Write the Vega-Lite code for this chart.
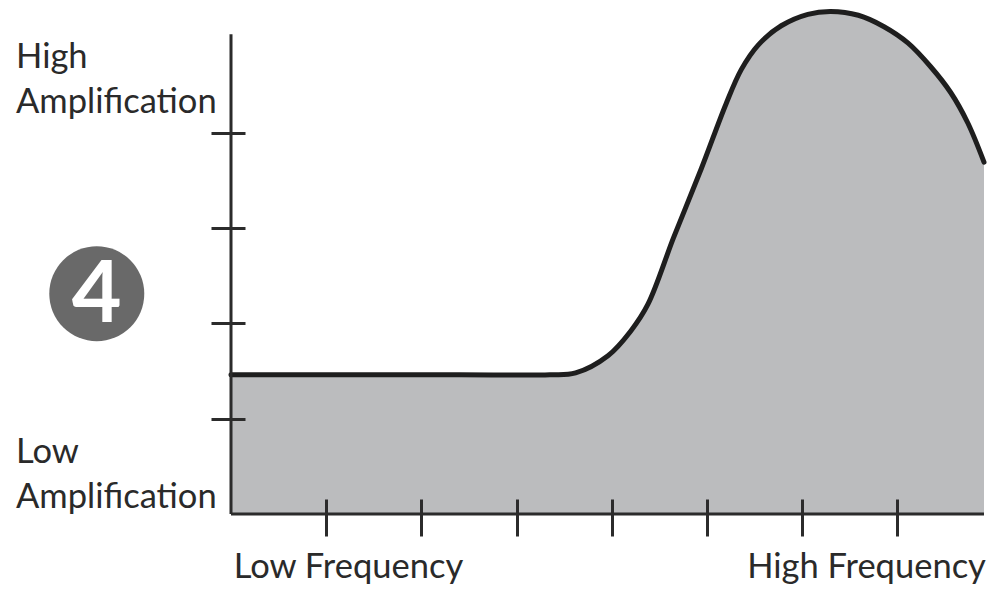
{
  "$schema": "https://vega.github.io/schema/vega-lite/v6.json",
  "autosize": "none",
  "padding": {"left": 231, "top": 0, "right": 4, "bottom": 79},
  "width": 753,
  "height": 514,
  "background": "white",
  "config": {"view": {"stroke": null}},
  "datasets": {
    "curve": [
      {"x": 0, "y": 1.46},
      {"x": 1.2, "y": 1.46},
      {"x": 2.4, "y": 1.46},
      {"x": 3.35, "y": 1.46},
      {"x": 3.62, "y": 1.48},
      {"x": 3.96, "y": 1.66},
      {"x": 4.2, "y": 1.92},
      {"x": 4.38, "y": 2.2},
      {"x": 4.65, "y": 2.9},
      {"x": 4.94, "y": 3.62},
      {"x": 5.2, "y": 4.3},
      {"x": 5.36, "y": 4.66},
      {"x": 5.54, "y": 4.92},
      {"x": 5.78, "y": 5.12},
      {"x": 6.06, "y": 5.24},
      {"x": 6.3, "y": 5.27},
      {"x": 6.59, "y": 5.23},
      {"x": 6.86, "y": 5.11},
      {"x": 7.11, "y": 4.94},
      {"x": 7.35, "y": 4.69},
      {"x": 7.56, "y": 4.42},
      {"x": 7.74, "y": 4.1},
      {"x": 7.91, "y": 3.69}
    ]
  },
  "layer": [
    {
      "data": {"name": "curve"},
      "mark": {"type": "area", "interpolate": "catmull-rom", "color": "#bbbcbe"},
      "encoding": {
        "x": {"field": "x", "type": "quantitative",
          "scale": {"domain": [0, 7.91], "nice": false, "zero": false},
          "axis": {"orient": "bottom", "offset": -15, "values": [1,2,3,4,5,6,7], "tickSize": 37, "tickWidth": 3, "tickColor": "#2b2b2b", "domain": false, "labels": false, "grid": false, "title": null, "zindex": 2}},
        "y": {"field": "y", "type": "quantitative",
          "scale": {"domain": [0, 5.39], "nice": false, "zero": false},
          "axis": {"orient": "left", "offset": -14, "values": [1,2,3,4], "tickSize": 34, "tickWidth": 3, "tickColor": "#2b2b2b", "domain": false, "labels": false, "grid": false, "title": null, "zindex": 2}}
      }
    },
    {
      "data": {"name": "curve"},
      "mark": {"type": "line", "interpolate": "catmull-rom", "color": "#1e1e1e", "strokeWidth": 5, "strokeCap": "round"},
      "encoding": {
        "x": {"field": "x", "type": "quantitative"},
        "y": {"field": "y", "type": "quantitative"}
      }
    },
    {
      "data": {"values": [{}]},
      "mark": {"type": "rule", "color": "#2b2b2b", "strokeWidth": 3},
      "encoding": {
        "x": {"datum": 0, "type": "quantitative"},
        "y": {"datum": 0, "type": "quantitative"},
        "y2": {"datum": 5.03}
      }
    },
    {
      "data": {"values": [{}]},
      "mark": {"type": "rule", "color": "#2b2b2b", "strokeWidth": 3},
      "encoding": {
        "x": {"datum": 0, "type": "quantitative"},
        "x2": {"datum": 7.91},
        "y": {"datum": 0, "type": "quantitative"}
      }
    },
    {
      "data": {"values": [{}]},
      "mark": {"type": "point", "shape": "circle", "filled": true, "color": "#696969", "opacity": 1, "size": 9025},
      "encoding": {
        "x": {"datum": -1.41, "type": "quantitative"},
        "y": {"datum": 2.31, "type": "quantitative"}
      }
    },
    {
      "data": {"values": [{}]},
      "mark": {"type": "text", "text": "4", "font": "Lato", "fontSize": 86, "fontWeight": "bold", "color": "white", "align": "center", "baseline": "middle", "dy": 2},
      "encoding": {
        "x": {"datum": -1.41, "type": "quantitative"},
        "y": {"datum": 2.31, "type": "quantitative"}
      }
    },
    {
      "data": {"values": [
        {"label": "High", "px": -2.258, "py": 4.68},
        {"label": "Amplification", "px": -2.258, "py": 4.21},
        {"label": "Low", "px": -2.258, "py": 0.535},
        {"label": "Amplification", "px": -2.258, "py": 0.063},
        {"label": "Low Frequency", "px": 0.03, "py": -0.67}
      ]},
      "mark": {"type": "text", "font": "Lato", "fontSize": 34.5, "color": "#2a2a2a", "align": "left", "baseline": "alphabetic"},
      "encoding": {
        "x": {"field": "px", "type": "quantitative"},
        "y": {"field": "py", "type": "quantitative"},
        "text": {"field": "label"}
      }
    },
    {
      "data": {"values": [{"label": "High Frequency", "px": 7.93, "py": -0.67}]},
      "mark": {"type": "text", "font": "Lato", "fontSize": 34.5, "color": "#2a2a2a", "align": "right", "baseline": "alphabetic"},
      "encoding": {
        "x": {"field": "px", "type": "quantitative"},
        "y": {"field": "py", "type": "quantitative"},
        "text": {"field": "label"}
      }
    }
  ]
}
